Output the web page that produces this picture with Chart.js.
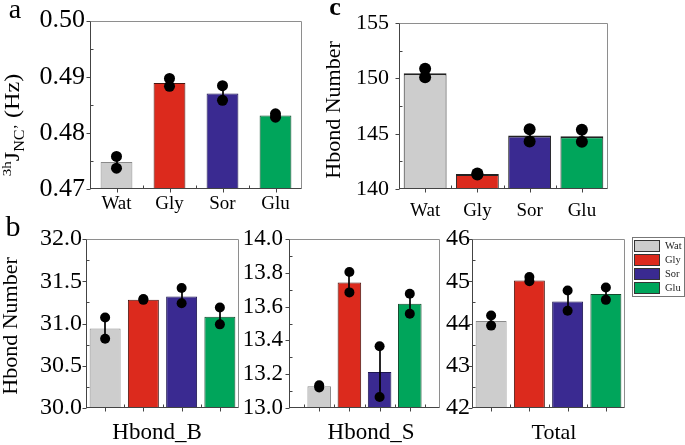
<!DOCTYPE html>
<html>
<head>
<meta charset="utf-8">
<script src="https://cdn.jsdelivr.net/npm/chart.js@4.4.1/dist/chart.umd.min.js"></script>
<style>
  html, body { margin: 0; padding: 0; background: #fff; }
  #page { position: relative; width: 685px; height: 445px; overflow: hidden; }
  .panel { position: absolute; }
</style>
</head>
<body>
<div id="page"></div>
<script>
// Solvent categories shared by every panel
const categories = ['Wat', 'Gly', 'Sor', 'Glu'];
const barColors = ['#cdcdcd', '#dc2a1d', '#3a2a91', '#00a55b'];
const barBorders = ['#8a8a8a', '#4a1510', '#1d1650', '#124a2c'];

// a: 3hJ NC' coupling (Hz)
const jMean = [0.4748, 0.4889, 0.4870, 0.4831];
const jRep1 = [0.4758, 0.4897, 0.4884, 0.4834];
const jRep2 = [0.4737, 0.4883, 0.4858, 0.4828];
const jSd = [0.00105, 0.0007, 0.0013, 0.0003];

// c: Hbond number (top right)
const cMean = [150.47, 141.36, 144.83, 144.77];
const cRep1 = [150.88, 141.40, 145.40, 145.35];
const cRep2 = [150.10, 141.32, 144.30, 144.28];
const cSd = [0.39, 0.04, 0.55, 0.53];

// b: Hbond_B
const bMean = [30.94, 31.28, 31.32, 31.08];
const bRep1 = [31.07, 31.29, 31.42, 31.19];
const bRep2 = [30.82, 31.28, 31.24, 30.99];
const bSd = [0.125, 0.01, 0.09, 0.10];

// b: Hbond_S
const sMean = [13.128, 13.743, 13.213, 13.617];
const sRep1 = [13.134, 13.805, 13.365, 13.676];
const sRep2 = [13.122, 13.684, 13.065, 13.558];
const sSd = [0.006, 0.06, 0.15, 0.059];

// b: Total
const tMean = [44.06, 45.02, 44.52, 44.70];
const tRep1 = [44.19, 45.10, 44.78, 44.85];
const tRep2 = [43.95, 45.00, 44.30, 44.56];
const tSd = [0.12, 0.05, 0.24, 0.145];

const SERIF = "'Liberation Serif', 'Times New Roman', Times, serif";

// Error bars drawn right after the bars, before the dots
const errorBars = {
    id: 'errorBars',
    afterDatasetDraw(chart, args, o) {
        if (args.meta.type !== 'bar') return;
        const ctx = chart.ctx;
        const y = chart.scales.y;
        const means = chart.data.datasets[args.index].data;
        ctx.save();
        ctx.strokeStyle = '#000';
        ctx.lineWidth = 1.7;
        args.meta.data.forEach((bar, i) => {
            if (means[i] == null) return;
            const px = Math.round(bar.x);
            ctx.beginPath();
            ctx.moveTo(px, y.getPixelForValue(means[i] + o.sd[i]));
            ctx.lineTo(px, y.getPixelForValue(means[i] - o.sd[i]));
            ctx.stroke();
        });
        ctx.restore();
    }
};

// Origin style frame: major ticks outward, minor ticks inward
const frame = {
    id: 'frame',
    afterDraw(chart, args, o) {
        const ctx = chart.ctx;
        const a = chart.chartArea;
        const x = chart.scales.x, y = chart.scales.y;
        const L = Math.round(a.left) + 0.5, R = Math.round(a.right) - 0.5;
        const T = Math.round(a.top) + 0.5, B = Math.round(a.bottom) - 0.5;
        const seg = (x1, y1, x2, y2, c) => {
            ctx.strokeStyle = c;
            ctx.beginPath();
            ctx.moveTo(x1, y1);
            ctx.lineTo(x2, y2);
            ctx.stroke();
        };
        ctx.save();
        ctx.lineWidth = 1;
        seg(L, T, R, T, '#8e8e8e');
        seg(R, T, R, B, '#8e8e8e');
        seg(L, T, L, B + 0.5, '#444');
        seg(L - 0.5, B, R, B, '#444');

        // y ticks
        y.ticks.forEach(t => {
            const py = Math.round(y.getPixelForValue(t.value)) + 0.5;
            seg(L - 4, py, L, py, '#444');
        });
        for (let v = y.min + o.minor; v < y.max - 1e-9; v += o.minor * 2) {
            const py = Math.round(y.getPixelForValue(v)) + 0.5;
            seg(L, py, L + 3, py, '#444');
        }

        // x ticks at category centres, minor ones between
        const labels = chart.data.labels;
        labels.forEach((lab, i) => {
            const px = Math.round(x.getPixelForValue(i)) + 0.5;
            if (lab !== '') seg(px, B, px, B + 4, '#444');
            if (i < labels.length - 1) {
                const mx = Math.round((x.getPixelForValue(i) + x.getPixelForValue(i + 1)) / 2) + 0.5;
                seg(mx, B - 3, mx, B, '#444');
            }
        });
        ctx.restore();
    }
};

// Free text: panel letters, axis titles
const texts = {
    id: 'texts',
    afterDraw(chart, args, o) {
        const ctx = chart.ctx;
        (o.items || []).forEach(it => {
            ctx.save();
            ctx.translate(it.x - o.ox, it.y - o.oy);
            if (it.vertical) ctx.rotate(-Math.PI / 2);
            ctx.fillStyle = '#000';
            if (it.parts) {
                ctx.scale(it.stretch || 1, 1);
                ctx.textAlign = 'left';
                ctx.textBaseline = 'alphabetic';
                let total = 0;
                it.parts.forEach(pt => {
                    ctx.font = pt.size + 'px ' + SERIF;
                    total += ctx.measureText(pt.text).width;
                });
                let cx = -total / 2;
                it.parts.forEach(pt => {
                    ctx.font = pt.size + 'px ' + SERIF;
                    ctx.fillText(pt.text, cx, it.base + pt.dy);
                    cx += ctx.measureText(pt.text).width;
                });
            } else {
                ctx.font = it.font;
                ctx.textAlign = 'center';
                ctx.textBaseline = it.baseline || 'middle';
                ctx.fillText(it.text, 0, 0);
            }
            ctx.restore();
        });
    }
};

// Boxed legend to the right of the Total panel
const boxLegend = {
    id: 'boxLegend',
    afterDraw(chart, args, o) {
        if (!o.show) return;
        const ctx = chart.ctx;
        const x0 = o.x - o.ox, y0 = o.y - o.oy;
        ctx.save();
        ctx.lineWidth = 1;
        ctx.strokeStyle = '#777';
        ctx.strokeRect(x0 + 0.5, y0 + 0.5, o.w, o.h);
        categories.forEach((c, i) => {
            const sy = y0 + 3 + i * 14;
            ctx.fillStyle = barColors[i];
            ctx.fillRect(x0 + 2.5, sy + 0.5, 25, 11);
            ctx.strokeStyle = '#333';
            ctx.strokeRect(x0 + 2.5, sy + 0.5, 25, 11);
            ctx.fillStyle = '#222';
            ctx.font = '10.5px ' + SERIF;
            ctx.textAlign = 'left';
            ctx.textBaseline = 'middle';
            ctx.fillText(c, x0 + 33, sy + 6.5);
        });
        ctx.restore();
    }
};

function makePanel(p) {
    const [bx, by, bw, bh] = p.box;
    const [al, at, ar, ab] = p.area;
    const div = document.createElement('div');
    div.className = 'panel';
    div.style.left = bx + 'px';
    div.style.top = by + 'px';
    const canvas = document.createElement('canvas');
    canvas.width = bw;
    canvas.height = bh;
    canvas.style.width = bw + 'px';
    canvas.style.height = bh + 'px';
    div.appendChild(canvas);
    document.getElementById('page').appendChild(div);

    // Hbond_S leaves an empty slot at each end
    const wrap = arr => p.pad ? [null, ...arr, null] : arr;
    const dot = data => ({
        type: 'line', data: wrap(data), showLine: false, order: 0,
        pointRadius: p.dot, pointBackgroundColor: '#000', pointBorderWidth: 0
    });

    new Chart(canvas, {
        type: 'bar',
        data: {
            labels: p.pad ? ['', ...categories, ''] : categories,
            datasets: [
                dot(p.rep1),
                dot(p.rep2),
                {
                    type: 'bar', data: wrap(p.mean), order: 1,
                    backgroundColor: wrap(barColors),
                    borderColor: p.darkTop ? '#222' : wrap(barBorders),
                    borderWidth: p.darkTop ? { top: 2, left: 1, right: 1, bottom: 0 } : 1,
                    borderSkipped: 'start',
                    barPercentage: p.barPct, categoryPercentage: 1
                }
            ]
        },
        options: {
            responsive: false,
            animation: false,
            events: [],
            layout: { padding: { left: 0, top: at - by, right: bx + bw - ar, bottom: 0 } },
            plugins: {
                legend: { display: false },
                tooltip: { enabled: false },
                errorBars: { sd: wrap(p.sd) },
                frame: { minor: p.minor },
                texts: { items: p.texts, ox: bx, oy: by },
                boxLegend: Object.assign({ show: false, ox: bx, oy: by }, p.legend || {})
            },
            scales: {
                x: {
                    offset: !p.pad,
                    grid: { display: false, drawTicks: false },
                    border: { display: false },
                    ticks: {
                        display: !!p.xLabels, autoSkip: false, maxRotation: 0,
                        color: '#000', padding: p.xPad || 0,
                        font: { family: SERIF, size: 19 }
                    },
                    afterFit: s => { s.height = by + bh - ab; }
                },
                y: {
                    min: p.min, max: p.max,
                    grid: { display: false, drawTicks: false },
                    border: { display: false },
                    ticks: {
                        stepSize: p.step, color: '#000', padding: p.tickPad,
                        font: { family: SERIF, size: p.tickSize },
                        callback: v => v.toFixed(p.dec)
                    },
                    afterFit: s => { s.width = al - bx; }
                }
            }
        },
        plugins: [errorBars, frame, texts, boxLegend]
    });
}

const yTitle = text => ({ text: text, font: '22px ' + SERIF, vertical: true });

makePanel({
    box: [0, 0, 312, 222], area: [90, 16, 302, 189],
    mean: jMean, rep1: jRep1, rep2: jRep2, sd: jSd,
    min: 0.47, max: 0.50, step: 0.01, minor: 0.005, dec: 2,
    tickSize: 26, tickPad: 5, xLabels: true, xPad: 3.5, barPct: 0.6, dot: 5.5,
    texts: [
        { text: 'a', x: 15, y: 18, font: '28px ' + SERIF, baseline: 'alphabetic' },
        {
            x: 12, y: 125, vertical: true, stretch: 1.15, base: 7,
            parts: [
                { text: '3h', size: 13, dy: -8 },
                { text: 'J', size: 21, dy: 0 },
                { text: 'NC\u2019', size: 14, dy: 5 },
                { text: ' (Hz)', size: 21, dy: 0 }
            ]
        }
    ]
});

makePanel({
    box: [312, 0, 305, 225], area: [399, 16, 608, 189],
    mean: cMean, rep1: cRep1, rep2: cRep2, sd: cSd,
    min: 140, max: 155, step: 5, minor: 2.5, dec: 0,
    tickSize: 22, tickPad: 10, xLabels: true, xPad: 11, barPct: 0.82, dot: 6, darkTop: true,
    texts: [
        { text: 'c', x: 335, y: 15, font: 'bold 26px ' + SERIF, baseline: 'alphabetic' },
        Object.assign(yTitle('Hbond Number'), { x: 334, y: 110 })
    ]
});

makePanel({
    box: [0, 215, 244, 230], area: [86, 239, 239, 408],
    mean: bMean, rep1: bRep1, rep2: bRep2, sd: bSd,
    min: 30, max: 32, step: 0.5, minor: 0.25, dec: 1,
    tickSize: 24, tickPad: 4, barPct: 0.81, dot: 5,
    texts: [
        { text: 'b', x: 13, y: 236, font: '30px ' + SERIF, baseline: 'alphabetic' },
        Object.assign(yTitle('Hbond Number'), { x: 11, y: 326 }),
        { text: 'Hbond_B', x: 157, y: 433, font: '23px ' + SERIF }
    ]
});

makePanel({
    box: [244, 215, 201, 230], area: [289, 239, 443, 408],
    mean: sMean, rep1: sRep1, rep2: sRep2, sd: sSd, pad: true,
    min: 13, max: 14, step: 0.2, minor: 0.1, dec: 1,
    tickSize: 23, tickPad: 6, barPct: 0.78, dot: 5,
    texts: [
        { text: 'Hbond_S', x: 371, y: 433, font: '23px ' + SERIF }
    ]
});

makePanel({
    box: [438, 215, 247, 230], area: [472, 239, 625, 408],
    mean: tMean, rep1: tRep1, rep2: tRep2, sd: tSd,
    min: 42, max: 46, step: 1, minor: 0.5, dec: 0,
    tickSize: 24, tickPad: 2, barPct: 0.81, dot: 5,
    texts: [
        { text: 'Total', x: 554, y: 433, font: '22px ' + SERIF }
    ],
    legend: { show: true, x: 632, y: 237, w: 52, h: 59 }
});
</script>
</body>
</html>
